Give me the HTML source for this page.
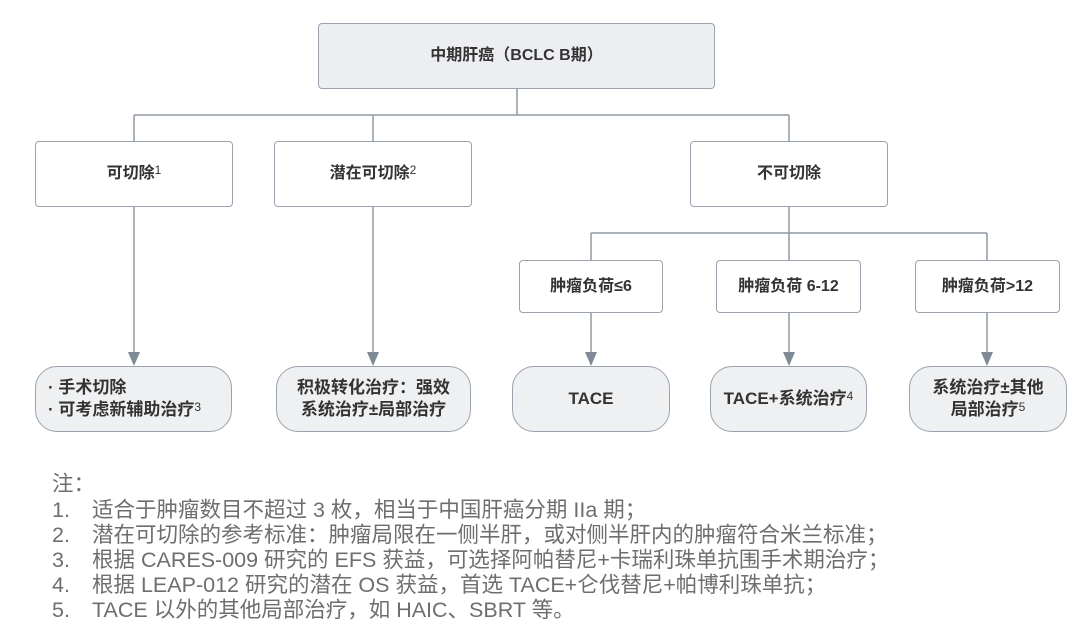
<!DOCTYPE html>
<html><head><meta charset="utf-8"><style>
body{margin:0;width:1080px;height:636px;background:#fff;position:relative;overflow:hidden;font-family:"Liberation Sans","Noto Sans CJK SC",sans-serif;}
.b{position:absolute;box-sizing:border-box;border:1.5px solid #9aa3ad;border-radius:4px;background:#fff;display:flex;align-items:center;justify-content:center;text-align:center;font-weight:bold;font-size:16px;color:#333;line-height:22px;}
.g{background:#eceef1;}
.p{border-radius:22px;background:#eff0f2;font-size:17px;}
sup{font-size:12px;vertical-align:4px;font-weight:normal;line-height:0;}
svg{position:absolute;left:0;top:0;}
.n{position:absolute;left:52px;font-size:21.5px;color:#6e6e6e;line-height:25px;white-space:nowrap;}
.n span{display:inline-block;width:40px;}
</style></head><body>
<svg width="1080" height="460">
<g stroke="#8f99a4" stroke-width="1.5" fill="none">
<path d="M517 89V115M134 115H789M134 115V141M373 115V141M789 115V141"/>
<path d="M789 207V233M591 233H987M591 233V260M789 233V260M987 233V260"/>
<path d="M134 207V354M373 207V354M591 313V354M789 313V354M987 313V354"/>
</g>
<g fill="#7f8a96">
<path d="M128 352H140L134 366Z"/><path d="M367 352H379L373 366Z"/><path d="M585 352H597L591 366Z"/><path d="M783 352H795L789 366Z"/><path d="M981 352H993L987 366Z"/>
</g>
</svg>
<div class="b g" style="left:318px;top:23px;width:397px;height:66px;"><div>中期肝癌（BCLC B期）</div></div>
<div class="b" style="left:35px;top:141px;width:198px;height:66px;"><div>可切除<sup>1</sup></div></div>
<div class="b" style="left:274px;top:141px;width:198px;height:66px;"><div>潜在可切除<sup>2</sup></div></div>
<div class="b" style="left:690px;top:141px;width:198px;height:66px;"><div>不可切除</div></div>
<div class="b" style="left:519px;top:260px;width:144px;height:53px;"><div>肿瘤负荷≤6</div></div>
<div class="b" style="left:716px;top:260px;width:145px;height:53px;"><div>肿瘤负荷 6-12</div></div>
<div class="b" style="left:915px;top:260px;width:145px;height:53px;"><div>肿瘤负荷&gt;12</div></div>
<div class="b p" style="left:35px;top:366px;width:197px;height:66px;justify-content:flex-start;text-align:left;padding-left:12px;"><div>· 手术切除<br>· 可考虑新辅助治疗<sup>3</sup></div></div>
<div class="b p" style="left:276px;top:366px;width:195px;height:66px;"><div>积极转化治疗：强效<br>系统治疗±局部治疗</div></div>
<div class="b p" style="left:512px;top:366px;width:158px;height:66px;"><div>TACE</div></div>
<div class="b p" style="left:710px;top:366px;width:157px;height:66px;"><div>TACE+系统治疗<sup>4</sup></div></div>
<div class="b p" style="left:909px;top:366px;width:158px;height:66px;"><div>系统治疗±其他<br>局部治疗<sup>5</sup></div></div>
<div class="n" style="top:472px;">注：</div>
<div class="n" style="top:498px;"><span>1.</span>适合于肿瘤数目不超过 3 枚，相当于中国肝癌分期 IIa 期；</div>
<div class="n" style="top:523px;"><span>2.</span>潜在可切除的参考标准：肿瘤局限在一侧半肝，或对侧半肝内的肿瘤符合米兰标准；</div>
<div class="n" style="top:548px;"><span>3.</span>根据 CARES-009 研究的 EFS 获益，可选择阿帕替尼+卡瑞利珠单抗围手术期治疗；</div>
<div class="n" style="top:573px;"><span>4.</span>根据 LEAP-012 研究的潜在 OS 获益，首选 TACE+仑伐替尼+帕博利珠单抗；</div>
<div class="n" style="top:598px;"><span>5.</span>TACE 以外的其他局部治疗，如 HAIC、SBRT 等。</div>
</body></html>
